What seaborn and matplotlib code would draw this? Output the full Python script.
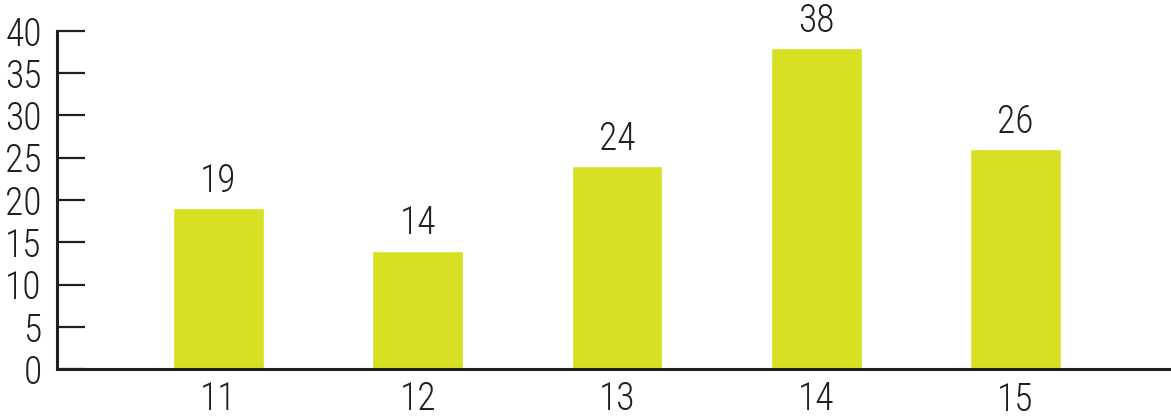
import pandas as pd
import seaborn as sns
import matplotlib.pyplot as plt
from matplotlib import font_manager

categories = ["11", "12", "13", "14", "15"]
values = [19, 14, 24, 38, 26]
y_ticks = [0, 5, 10, 15, 20, 25, 30, 35, 40]

BAR_COLOR = "#d7e022"
TEXT_COLOR = "#231f20"


def pick_font(candidates):
    for name in candidates:
        try:
            font_manager.findfont(font_manager.FontProperties(family=name),
                                  fallback_to_default=False)
            return name
        except ValueError:
            continue
    return "DejaVu Sans"


FONT = pick_font(["Roboto Condensed", "Liberation Sans Narrow",
                  "DejaVu Sans Condensed", "Roboto"])

sns.set_style("white")
plt.rcParams['font.family'] = [FONT, 'DejaVu Sans']
plt.rcParams['font.stretch'] = 'condensed'
plt.rcParams['font.weight'] = 'light'

df = pd.DataFrame({"category": categories, "value": values})

fig = plt.figure(figsize=(11.71, 4.17), dpi=100)
ax = fig.add_axes([57 / 1171, 48 / 417, 1 - 57 / 1171, 338 / 417])

sns.barplot(data=df, x="category", y="value", color=BAR_COLOR,
            saturation=1, width=0.455, ax=ax)

for p, v in zip(ax.patches, values):
    ax.annotate(str(v), (p.get_x() + p.get_width() / 2, p.get_height()),
                xytext=(0, 6), textcoords="offset points",
                ha="center", va="bottom", fontsize=27, color=TEXT_COLOR)

ax.set_xlim(-0.81, 4.78)
ax.set_ylim(0, 40)
ax.set_yticks(y_ticks)
ax.set_xlabel("")
ax.set_ylabel("")

for side in ["top", "right"]:
    ax.spines[side].set_visible(False)
for side in ["left", "bottom"]:
    ax.spines[side].set_linewidth(2.2)
    ax.spines[side].set_color(TEXT_COLOR)

ax.tick_params(axis="y", left=True, direction="in", length=20, width=1.6,
               color=TEXT_COLOR, labelsize=27, labelcolor=TEXT_COLOR, pad=11)
ax.tick_params(axis="x", bottom=False, length=0, labelsize=27,
               labelcolor=TEXT_COLOR, pad=8)
ax.get_xticklabels()[4].set_y(-0.005)

fig.savefig("out.png", dpi=100)
